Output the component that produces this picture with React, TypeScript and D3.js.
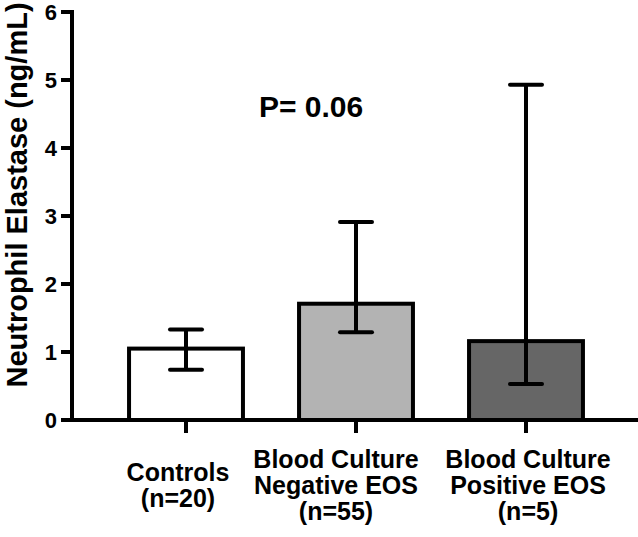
import React from "react";
import * as d3 from "d3";

const categories = ["Controls", "Blood Culture Negative EOS", "Blood Culture Positive EOS"];
const labelLines = [
  ["Controls", "(n=20)"],
  ["Blood Culture", "Negative EOS", "(n=55)"],
  ["Blood Culture", "Positive EOS", "(n=5)"],
];
const means = [1.05, 1.71, 1.16];
const errLow = [0.74, 1.29, 0.53];
const errHigh = [1.33, 2.91, 4.93];
const fills = ["#ffffff", "#b3b3b3", "#666666"];
const yTicks = [0, 1, 2, 3, 4, 5, 6];
const yTitle = "Neutrophil Elastase (ng/mL)";
const pText = "P= 0.06";
const pValueY = 4.5;

const W = 638;
const H = 537;
const FONT = "'Liberation Sans', Arial, Helvetica, sans-serif";
// horizontal nudges of the category label blocks (layout only)
const LABEL_DX = [-8, -20, 2];

export default function App() {
  const axisX = 72;
  const y = d3.scaleLinear().domain([0, 6]).range([420, 12]);
  const x = d3
    .scaleBand<string>()
    .domain(categories)
    .range([101, 611])
    .paddingInner(0.33)
    .paddingOuter(0.165);
  const bw = x.bandwidth();
  const capW = 32;
  const sw = 4;
  const labelMid = 485;
  const step = 26;

  return (
    <svg
      width={W}
      height={H}
      style={{ position: "absolute", left: 0, top: 0, display: "block", background: "#fff" }}
    >
      {/* bars */}
      {categories.map((c, i) => (
        <rect
          key={c}
          x={x(c)!}
          y={y(means[i])}
          width={bw}
          height={y(0) - y(means[i])}
          fill={fills[i]}
          stroke="#000"
          strokeWidth={sw}
        />
      ))}
      {/* error bars */}
      {categories.map((c, i) => {
        const cx = x(c)! + bw / 2;
        return (
          <g key={"e" + c} stroke="#000" strokeWidth={sw}>
            <line x1={cx} x2={cx} y1={y(errLow[i])} y2={y(errHigh[i])} />
            <line x1={cx - capW / 2} x2={cx + capW / 2} y1={y(errHigh[i])} y2={y(errHigh[i])} strokeLinecap="round" />
            <line x1={cx - capW / 2} x2={cx + capW / 2} y1={y(errLow[i])} y2={y(errLow[i])} strokeLinecap="round" />
          </g>
        );
      })}
      {/* y axis */}
      <line x1={axisX} x2={axisX} y1={y(6) - 2} y2={y(0)} stroke="#000" strokeWidth={sw} />
      {yTicks.map((t) => (
        <g key={"t" + t}>
          <line x1={axisX - 11} x2={axisX} y1={y(t)} y2={y(t)} stroke="#000" strokeWidth={sw} />
          <text
            x={axisX - 15}
            y={y(t)}
            dy="0.36em"
            textAnchor="end"
            fontFamily={FONT}
            fontWeight="bold"
            fontSize={22}
            fill="#000"
          >
            {t}
          </text>
        </g>
      ))}
      {/* x axis */}
      <line x1={axisX - 2} x2={W} y1={y(0)} y2={y(0)} stroke="#000" strokeWidth={sw} />
      {categories.map((c) => {
        const cx = x(c)! + bw / 2;
        return <line key={"xt" + c} x1={cx} x2={cx} y1={y(0)} y2={y(0) + 13} stroke="#000" strokeWidth={sw} />;
      })}
      {/* category labels */}
      {categories.map((c, i) => {
        const cx = x(c)! + bw / 2 + LABEL_DX[i];
        const lines = labelLines[i];
        const first = labelMid + 9 - ((lines.length - 1) * step) / 2;
        return (
          <text
            key={"l" + c}
            textAnchor="middle"
            fontFamily={FONT}
            fontWeight="bold"
            fontSize={25}
            fill="#000"
          >
            {lines.map((ln, j) => (
              <tspan key={j} x={cx} y={first + j * step}>
                {ln}
              </tspan>
            ))}
          </text>
        );
      })}
      {/* y title */}
      <text
        transform={`translate(27, ${y(0) - 225}) rotate(-90)`}
        textAnchor="middle"
        fontFamily={FONT}
        fontWeight="bold"
        fontSize={29}
        fill="#000"
      >
        {yTitle}
      </text>
      {/* p-value */}
      <text
        x={x(categories[1])! + 12}
        y={y(pValueY) + 3}
        textAnchor="middle"
        fontFamily={FONT}
        fontWeight="bold"
        fontSize={30}
        fill="#000"
      >
        {pText}
      </text>
    </svg>
  );
}
